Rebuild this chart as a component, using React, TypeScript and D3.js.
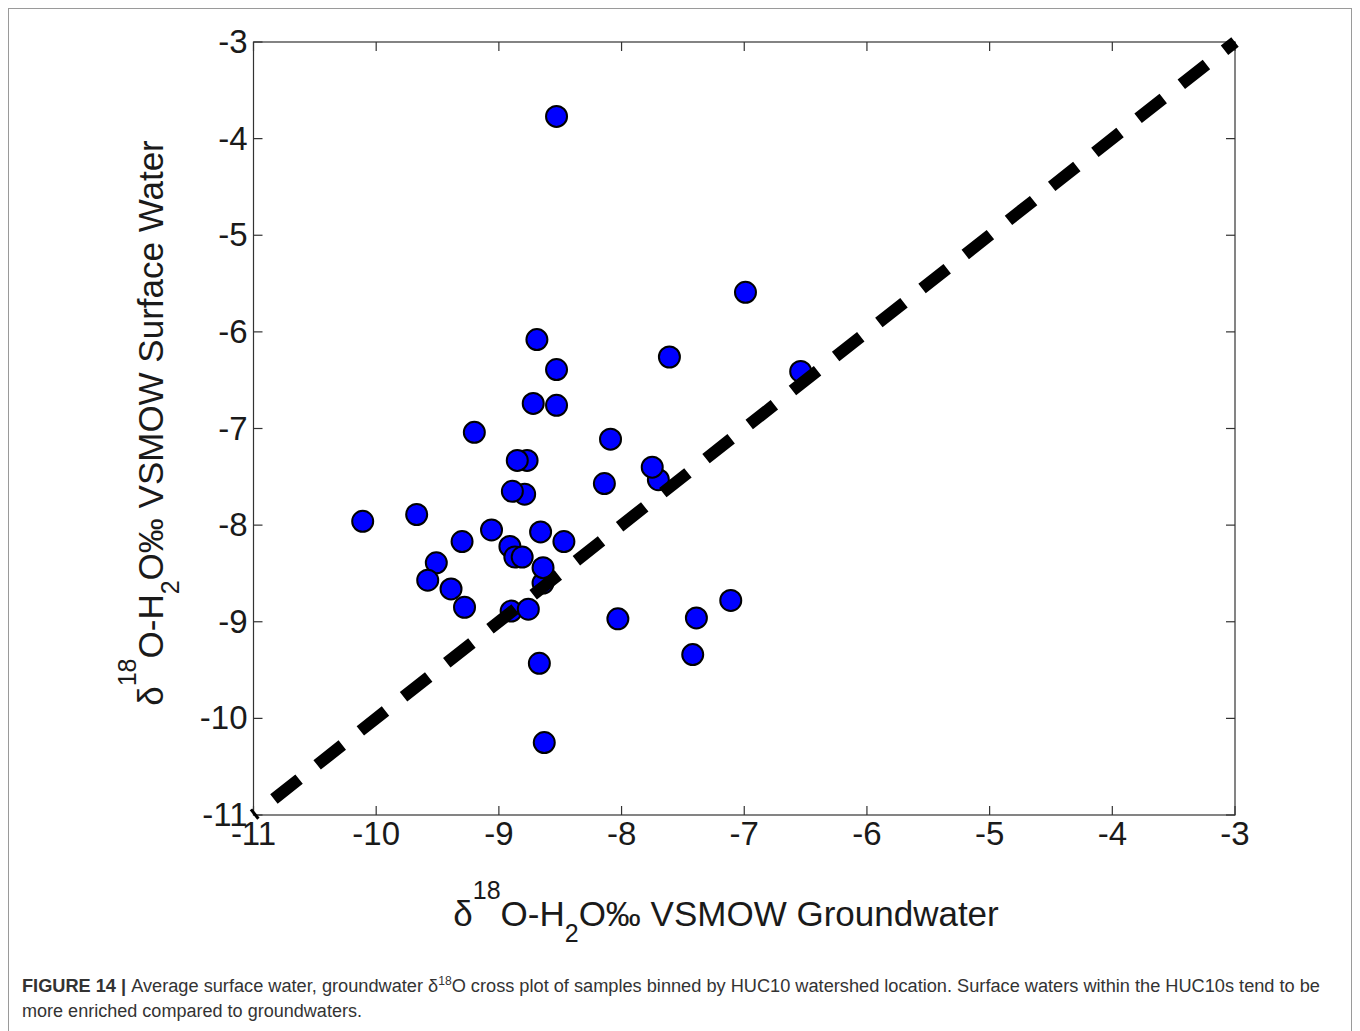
import React, { useEffect, useRef } from "react";
import * as d3 from "d3";

// Groundwater (x) and surface water (y) δ18O, per HUC10 watershed
const groundwater = [
  -8.53, -6.99, -8.69, -7.61, -8.53, -6.54, -8.72, -8.53, -9.20, -8.09,
  -8.77, -8.85, -7.70, -7.75, -8.14, -8.79, -8.89, -10.11, -9.67, -9.06,
  -8.66, -9.30, -8.47, -8.91, -8.87, -8.81, -9.51, -8.64, -8.64, -9.58,
  -9.39, -9.28, -8.90, -8.76, -8.03, -7.11, -7.39, -7.42, -8.67, -8.63,
];
const surfaceWater = [
  -3.77, -5.59, -6.08, -6.26, -6.39, -6.41, -6.74, -6.76, -7.04, -7.11,
  -7.33, -7.33, -7.53, -7.40, -7.57, -7.68, -7.65, -7.96, -7.89, -8.05,
  -8.07, -8.17, -8.17, -8.22, -8.33, -8.33, -8.39, -8.60, -8.44, -8.57,
  -8.66, -8.85, -8.89, -8.87, -8.97, -8.78, -8.96, -9.34, -9.43, -10.25,
];
const xTicks = [-11, -10, -9, -8, -7, -6, -5, -4, -3];
const yTicks = [-3, -4, -5, -6, -7, -8, -9, -10, -11];
const oneToOne = [-11, -3];

const W = 1360;
const H = 1031;
const M = { left: 253.5, right: 1235, top: 42, bottom: 815 };

export default function App() {
  const ref = useRef<SVGSVGElement>(null);

  useEffect(() => {
    const svg = d3.select(ref.current);
    svg.selectAll("*").remove();

    const x = d3.scaleLinear().domain([-11, -3]).range([M.left, M.right]);
    const y = d3.scaleLinear().domain([-11, -3]).range([M.bottom, M.top]);

    // outer frame
    svg.append("rect").attr("x", 8.5).attr("y", 8.5).attr("width", 1343).attr("height", 1030)
      .attr("fill", "none").attr("stroke", "#9a9a9a").attr("stroke-width", 1);

    const tickColor = "#1a1a1a";
    const font = "'Liberation Sans', Arial, Helvetica, sans-serif";

    // axes box
    svg.append("rect").attr("x", M.left).attr("y", M.top)
      .attr("width", M.right - M.left).attr("height", M.bottom - M.top)
      .attr("fill", "white").attr("stroke", "#333").attr("stroke-width", 1.2);

    const tl = 9;
    const g = svg.append("g");
    xTicks.forEach((t) => {
      g.append("line").attr("x1", x(t)).attr("x2", x(t)).attr("y1", M.bottom).attr("y2", M.bottom - tl)
        .attr("stroke", "#333").attr("stroke-width", 1.2);
      g.append("line").attr("x1", x(t)).attr("x2", x(t)).attr("y1", M.top).attr("y2", M.top + tl)
        .attr("stroke", "#333").attr("stroke-width", 1.2);
      g.append("text").attr("x", x(t)).attr("y", M.bottom + 30).attr("text-anchor", "middle")
        .attr("font-family", font).attr("font-size", 33).attr("fill", tickColor).text(String(t));
    });
    yTicks.forEach((t) => {
      g.append("line").attr("x1", M.left).attr("x2", M.left + tl).attr("y1", y(t)).attr("y2", y(t))
        .attr("stroke", "#333").attr("stroke-width", 1.2);
      g.append("line").attr("x1", M.right).attr("x2", M.right - tl).attr("y1", y(t)).attr("y2", y(t))
        .attr("stroke", "#333").attr("stroke-width", 1.2);
      g.append("text").attr("x", M.left - 6).attr("y", y(t) + 11).attr("text-anchor", "end")
        .attr("font-family", font).attr("font-size", 33).attr("fill", tickColor).text(String(t));
    });

    // points
    const data = groundwater.map((gw, i) => ({ gw, sw: surfaceWater[i] }));
    svg.append("g").selectAll("circle").data(data).join("circle")
      .attr("cx", (d) => x(d.gw)).attr("cy", (d) => y(d.sw)).attr("r", 10.5)
      .attr("fill", "#0000ff").attr("stroke", "#000").attr("stroke-width", 2);

    // 1:1 line
    const line = d3.line<number>().x((d) => x(d)).y((d) => y(d));
    svg.append("path").attr("d", line(oneToOne))
      .attr("fill", "none").attr("stroke", "#000").attr("stroke-width", 12)
      .attr("stroke-dasharray", "32 23").attr("stroke-dashoffset", 29);

    // x label
    const xl = svg.append("text").attr("x", 726).attr("y", 926).attr("text-anchor", "middle")
      .attr("font-family", font).attr("font-size", 35).attr("fill", tickColor);
    xl.append("tspan").text("δ");
    xl.append("tspan").attr("font-size", 25).attr("dy", -27).text("18");
    xl.append("tspan").attr("dy", 27).text("O-H");
    xl.append("tspan").attr("font-size", 25).attr("dy", 16).text("2");
    xl.append("tspan").attr("dy", -16).text("O‰ VSMOW Groundwater");

    // y label
    const yl = svg.append("text").attr("transform", "translate(163,423) rotate(-90)")
      .attr("text-anchor", "middle").attr("font-family", font).attr("font-size", 35).attr("fill", tickColor);
    yl.append("tspan").text("δ");
    yl.append("tspan").attr("font-size", 25).attr("dy", -27).text("18");
    yl.append("tspan").attr("dy", 27).text("O-H");
    yl.append("tspan").attr("font-size", 25).attr("dy", 16).text("2");
    yl.append("tspan").attr("dy", -16).text("O‰ VSMOW Surface Water");

    // caption
    const capFont = "'Liberation Sans Narrow', 'Arial Narrow', 'Liberation Sans', sans-serif";
    const c1 = svg.append("text").attr("x", 22).attr("y", 992).attr("font-family", capFont)
      .attr("font-size", 18).attr("fill", "#333").attr("textLength", 1298).attr("lengthAdjust", "spacingAndGlyphs");
    c1.append("tspan").attr("font-weight", "bold").text("FIGURE 14 | ");
    c1.append("tspan").text("Average surface water, groundwater δ");
    c1.append("tspan").attr("font-size", 12).attr("dy", -7).text("18");
    c1.append("tspan").attr("dy", 7).text("O cross plot of samples binned by HUC10 watershed location. Surface waters within the HUC10s tend to be");
    svg.append("text").attr("x", 22).attr("y", 1017).attr("font-family", capFont)
      .attr("font-size", 18).attr("fill", "#333").attr("textLength", 340).attr("lengthAdjust", "spacingAndGlyphs")
      .text("more enriched compared to groundwaters.");
  }, []);

  return (
    <svg ref={ref} width={W} height={H}
      style={{ position: "absolute", left: 0, top: 0, background: "white" }} />
  );
}
